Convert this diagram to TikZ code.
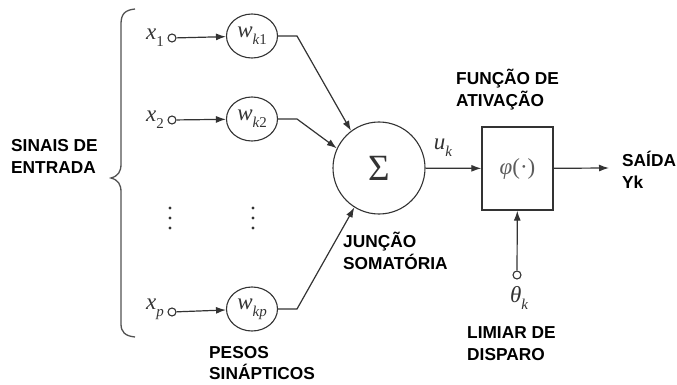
\documentclass[tikz,border=0pt]{standalone}
\usepackage{fontspec}
\setsansfont{Liberation Sans}
\newfontfamily\mf{Liberation Serif}
\newcommand\mi[1]{{\mf\itshape #1}}
\newcommand\mr[1]{{\mf #1}}
\newcommand\sbx[1]{\raisebox{-0.3em}{\fontsize{15}{15}\selectfont #1}}
\usetikzlibrary{arrows.meta,shapes.geometric}
\definecolor{ln}{HTML}{333333}
\begin{document}
\begin{tikzpicture}[x=1pt,y=-1pt,
  lab/.style={font=\sffamily\bfseries\fontsize{17.3}{22}\selectfont, align=left, inner sep=0, anchor=west},
  mth/.style={font=\fontsize{23}{24}\selectfont, inner sep=0, text=ln},
  wnode/.style={draw=ln, ellipse, minimum width=51, minimum height=44, inner sep=0, line width=1.1, font=\fontsize{23}{22}\selectfont, text=ln},
  smallc/.style={draw=ln, circle, minimum size=8, inner sep=0, line width=1.1, fill=white},
  arr/.style={draw=ln, line width=1.2, -{Latex[length=10,width=7]}},
  ln1/.style={draw=ln, line width=1.3},
  dotf/.style={fill=ln}]
\useasboundingbox (0,0) rectangle (677,385);

% brace
\draw[ln1, draw=ln!85] (135,9) .. controls (125,10) and (121,14) .. (121,24)
  -- (121,164) .. controls (121,172) and (118,176) .. (111,178)
  .. controls (118,180) and (121,184) .. (121,192)
  -- (121,324) .. controls (121,332) and (125,336) .. (135,337);

% input nodes
\node[smallc] (i1) at (172,38) {};
\node[smallc] (i2) at (172,120) {};
\node[smallc] (ip) at (172,312) {};
\node[mth, anchor=east] (x1) at (164,38) {\mi{x}\sbx{\mr{1}}};
\node[mth, anchor=east] (x2) at (164,120) {\mi{x}\sbx{\mr{2}}};
\node[mth, anchor=east] (xp) at (164,309) {\mi{x}\sbx{\mi{p}}};

\node[wnode] (w1) at (252,36) {\mi{w}\sbx{\mi{k}\mr{1}}};
\node[wnode] (w2) at (252,119) {\mi{w}\sbx{\mi{k}\mr{2}}};
\node[wnode] (wp) at (252,309) {\mi{w}\sbx{\mi{kp}}};

% vertical dots
\foreach \yy in {208,218,228} {
  \fill[dotf] (170,\yy) circle (1.7);
  \fill[dotf] (253,\yy) circle (1.7);
}

\node[draw=ln, circle, minimum size=92, line width=1.1, font=\fontsize{37}{37}\selectfont, text=ln] (sum) at (379,168) {\mr{Σ}};
\node[draw=ln, minimum width=71, minimum height=83, line width=1.3, font=\fontsize{23}{22}\selectfont, text=ln!80] (phi) at (517.5,168.5) {\mi{φ}\mr{(·)}};
\node[smallc] (th) at (517,275) {};
\node[mth] (thl) at (519,298) {\mi{θ}\sbx{\mi{k}}};
\node[mth] (uk) at (443,148) {\mi{u}\sbx{\mi{k}}};
\coordinate (out) at (609,168);
\coordinate (b1) at (297,36);
\coordinate (b2) at (297,119);
\coordinate (bp) at (297,309);

% connectors
\draw[arr] (i1) -- (w1);
\draw[arr] (i2) -- (w2);
\draw[arr] (ip) -- (wp);
\draw[arr] (w1.east) -- (b1) -- (sum.127);
\draw[arr] (w2.east) -- (b2) -- (sum.155);
\draw[arr] (wp.east) -- (bp) -- (sum.238);
\draw[arr] (sum) -- (phi);
\draw[arr] (phi) -- (out);
\draw[arr] (th) -- (phi);

% labels
\node[lab] (l1) at (11,156) {SINAIS DE\\ENTRADA};
\node[lab] (l2) at (456,90) {FUNÇÃO DE\\ATIVAÇÃO};
\node[lab] (l3) at (622,170) {SAÍDA\\Yk};
\node[lab] (l4) at (343,251) {JUNÇÃO\\SOMATÓRIA};
\node[lab] (l5) at (467,344) {LIMIAR DE\\DISPARO};
\node[lab, font=\sffamily\bfseries\fontsize{17.3}{21}\selectfont] (l6) at (209,363) {PESOS\\SINÁPTICOS};
\end{tikzpicture}
\end{document}
